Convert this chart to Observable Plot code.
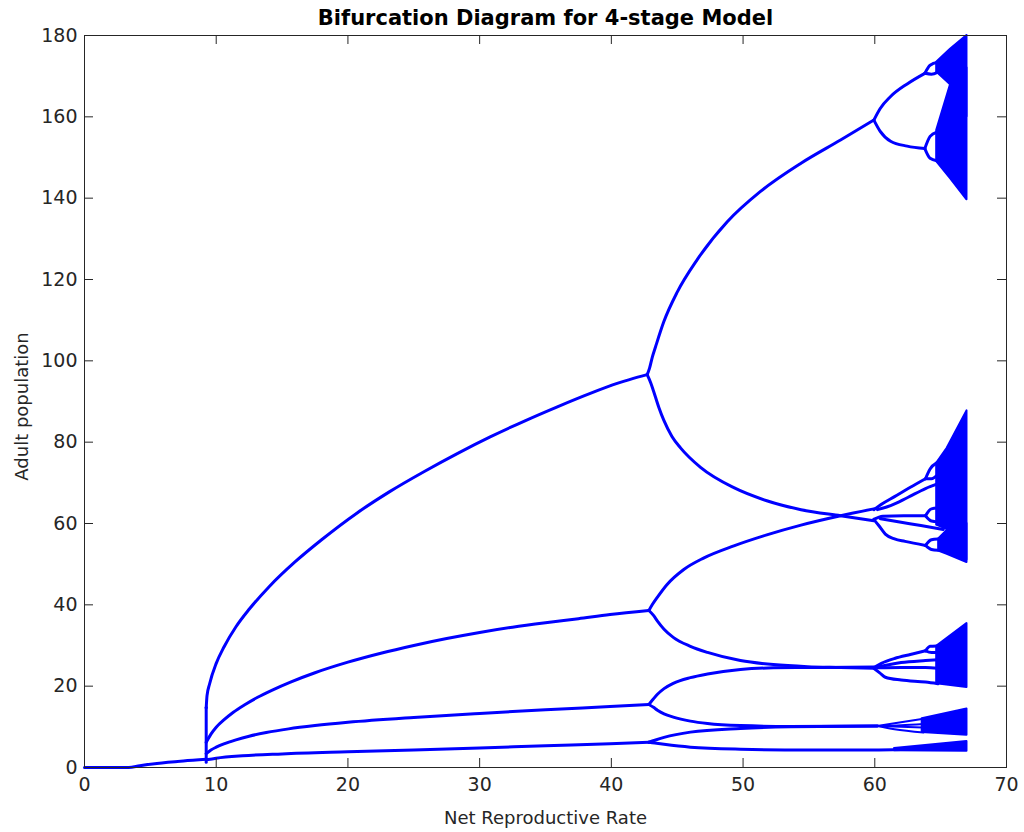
<!DOCTYPE html>
<html><head><meta charset="utf-8">
<script src="https://cdn.jsdelivr.net/npm/d3@7"></script>
<script src="https://cdn.jsdelivr.net/npm/@observablehq/plot@0.6"></script>
<style>body{margin:0;background:#fff}#chart{width:1024px;height:832px}</style>
</head><body><div id="chart"></div>
<script>
const title = "Bifurcation Diagram for 4-stage Model";
const xLabel = "Net Reproductive Rate";
const yLabel = "Adult population";
const xTicks = [0, 10, 20, 30, 40, 50, 60, 70];
const yTicks = [0, 20, 40, 60, 80, 100, 120, 140, 160, 180];

// branches: [R, adults]
const stem = [[0,0],[3.35,0],[4.2,0.45],[5.5,1.0],[7.5,1.6],[9.24,2.0]];
const jump = [[9.24,1.3],[9.24,14.8]];
const branchA = [[9.24,14.6],[9.3,17.6],[9.5,20.6],[10.0,25.6],[10.6,29.7],[11.5,34.6],[12.5,38.9],[14,44.4],[16,50.6],[18,56.0],[20.7,62.6],[23.2,67.9],[25.8,72.8],[28.3,77.2],[30.8,81.3],[33.4,85.2],[35.9,88.7],[38.4,92.0],[40.5,94.5],[42.0,96.0],[42.72,96.6]];
const branchB = [[9.24,6.2],[9.6,8.2],[10.0,9.9],[10.58,11.7],[11.3,13.6],[12.2,15.5],[13.11,17.2],[14.3,19.1],[15.64,21.0],[17.5,23.3],[20,25.9],[22.5,28.1],[25,30.0],[27.5,31.7],[30,33.2],[32.5,34.5],[35,35.6],[37.5,36.6],[39.9,37.6],[42.85,38.6]];
const branchC = [[9.24,3.4],[9.6,4.3],[10.0,5.0],[10.58,5.8],[11.5,6.8],[12.5,7.7],[13.8,8.6],[15.5,9.5],[17.5,10.3],[20,11.1],[25,12.3],[30,13.3],[35,14.2],[39.9,15.0],[42.85,15.5]];
const branchD = [[9.24,1.9],[10,2.3],[12,2.9],[15,3.35],[20,3.85],[25,4.3],[30,4.8],[35,5.35],[39.9,5.85],[42.85,6.2]];

const branchA1 = [[42.72,96.6],[42.9,98.2],[43.1,100.8],[43.35,103.4],[43.98,109.6],[45.0,116.9],[46.52,124.9],[48.8,134.2],[51.3,141.6],[54.4,148.6],[57.4,154.3],[59.93,159.2]];
const branchA2 = [[42.72,96.6],[43.0,94.5],[43.2,92.6],[43.6,88.6],[43.98,85.4],[44.6,81.4],[45.25,78.6],[46.77,73.8],[49.3,68.8],[51.8,65.6],[54.4,63.4],[57.4,61.9],[59.93,60.7]];
const branchB1 = [[42.85,38.6],[43.1,40.0],[43.5,41.9],[44.2,44.9],[45.5,48.7],[47.0,51.5],[49.3,54.5],[51.8,57.2],[54.4,59.6],[57.4,61.9],[59.93,63.6]];
const branchB2 = [[42.85,38.6],[43.2,37.4],[43.5,36.0],[44.0,34.0],[44.7,32.0],[46,29.8],[47.3,28.3],[49.8,26.3],[52.3,25.3],[54.9,24.8],[57.4,24.6],[59.93,24.4]];
const branchC1 = [[42.85,15.5],[43.2,16.9],[43.5,18.0],[44.0,19.4],[44.7,20.7],[46,22.1],[47.3,23.0],[49.8,24.1],[52.3,24.5],[56,24.6],[59.93,24.7]];
const branchC2 = [[42.85,15.5],[43.2,14.8],[43.5,14.1],[44.0,13.2],[44.7,12.4],[46,11.4],[47.3,10.8],[49.8,10.3],[53.6,10.1],[60.2,10.2]];
const branchD1 = [[42.85,6.2],[43.3,6.7],[44,7.4],[46,8.7],[49.8,9.6],[53.6,10.0],[60.2,10.2]];
const branchD2 = [[42.85,6.2],[43.3,6.0],[44,5.7],[46,5.0],[49.8,4.5],[54.9,4.3],[59.93,4.3],[62,4.4]];

// top cluster
const topU = [[59.93,159.2],[60.4,162],[61.2,165.0],[62.46,168.1],[63.8,170.7]];
const topUa = [[63.8,170.7],[64.2,172.7],[64.8,173.4]];
const topUb = [[63.8,170.7],[64.3,170.5],[64.8,171.0]];
const topL = [[59.93,159.2],[60.4,156.5],[61.2,154.0],[62.46,152.8],[63.8,152.2]];
const topLa = [[63.8,152.2],[64.2,155.2],[64.7,156.2]];
const topLb = [[63.8,152.2],[64.2,149.8],[64.7,149.2]];
// middle cluster
const midM1 = [[59.93,63.4],[60.6,64.9],[61.5,66.6],[62.7,68.9],[63.85,71.0]];
const midM1a = [[63.85,71.0],[64.2,73.4],[64.7,74.9]];
const midM1b = [[63.85,71.0],[64.3,71.0],[64.8,72.0]];
const midM2 = [[60.2,63.4],[61.2,64.4],[62.5,66.4],[63.85,68.6],[64.8,69.8]];
const midM3 = [[59.93,61.0],[60.6,61.8],[62.2,61.9],[63.85,61.9]];
const midM3a = [[63.85,61.9],[64.3,63.6],[64.8,63.8]];
const midM3b = [[63.85,61.9],[64.3,60.6],[64.8,60.4]];
const midM4 = [[60.4,61.2],[62.0,60.3],[63.5,59.5],[65.2,58.5]];
const midM5 = [[59.93,61.0],[60.3,59.5],[60.8,57.4],[61.5,56.2],[62.3,55.6],[63.85,54.6]];
const midM5a = [[63.85,54.6],[64.3,56.0],[64.8,56.2]];
const midM5b = [[63.85,54.6],[64.3,53.6],[64.8,53.4]];
// lower-middle cluster
const lowN1 = [[59.93,24.6],[60.5,25.6],[61.5,26.8],[62.7,27.8],[63.85,28.7]];
const lowN1a = [[63.85,28.7],[64.2,29.8],[64.7,29.9]];
const lowN1b = [[63.85,28.7],[64.3,28.3],[64.8,28.3]];
const lowN2 = [[60.2,24.7],[62,25.8],[63.85,26.3],[64.8,26.5]];
const lowN3 = [[60.2,24.5],[62,24.6],[63.85,24.6],[64.8,24.4]];
const lowN4 = [[59.93,24.4],[60.4,23.2],[60.8,22.2],[62,21.5],[63.85,21.0],[64.8,20.6]];
// thin fan of the 10-level cluster
const fanK1 = [[60.2,10.2],[61.5,10.9],[63.7,12.0]];
const fanK2 = [[60.2,10.2],[62,10.4],[63.7,10.7]];
const fanK3 = [[60.2,10.2],[62,10.0],[63.7,9.8]];
const fanK4 = [[60.2,10.2],[61.5,9.4],[63.7,8.6]];

// chaotic bands: [R, low, high]
const chaosTopUpper = [[64.7,171.0,173.4],[65.75,167.9,176.6],[67.0,160.0,180.0]];
const chaosTopMain = [[64.7,149.0,156.6],[65.75,144.8,167.9],[67.0,139.6,172.0]];
const chaosMidUpper = [[64.7,59.6,74.8],[65.5,58.5,78.5],[67.0,51.0,87.7]];
const chaosMidLower = [[64.85,53.2,56.2],[65.5,52.4,58.3],[67.0,50.4,60.0]];
const chaosLowMid = [[64.7,20.6,29.8],[67.0,19.7,35.4]];
const chaosTen = [[63.6,8.6,12.0],[67.0,7.9,14.4]];
const chaosFour = [[61.5,4.1,4.7],[67.0,4.0,6.4]];

const mainLines = [["stem",stem],["A",branchA],["B",branchB],["C",branchC],["D",branchD],
  ["A1",branchA1],["A2",branchA2],["B1",branchB1],["B2",branchB2],["C1",branchC1],["C2",branchC2],["D1",branchD1],["D2",branchD2],
  ["U",topU],["Ua",topUa],["Ub",topUb],["L",topL],["La",topLa],["Lb",topLb],
  ["M1",midM1],["M1a",midM1a],["M1b",midM1b],["M2",midM2],["M3",midM3],["M3a",midM3a],["M3b",midM3b],["M4",midM4],["M5",midM5],["M5a",midM5a],["M5b",midM5b],
  ["N1",lowN1],["N1a",lowN1a],["N1b",lowN1b],["N2",lowN2],["N3",lowN3],["N4",lowN4]];
const thinLines = [["K1",fanK1],["K2",fanK2],["K3",fanK3],["K4",fanK4]];
const bands = [["tu",chaosTopUpper],["tm",chaosTopMain],["mu",chaosMidUpper],["ml",chaosMidLower],["lm",chaosLowMid],["ten",chaosTen],["four",chaosFour]];

const toRows = list => list.flatMap(([id, pts]) => pts.map(([x, y]) => ({id, x, y})));
const lineRows = toRows(mainLines);
const thinRows = toRows(thinLines);
const jumpRows = toRows([["jump", jump]]);
const bandRows = bands.flatMap(([id, pts]) => pts.map(([x, lo, hi]) => ({id, x, lo, hi})));

const W = 1024, H = 832, mt = 35, mb = 65, ml = 84, mr = 18;
const plotW = W - ml - mr, plotH = H - mt - mb, tick = 9;
const blue = "#0000ff", ink = "#262626";

const chart = Plot.plot({
  width: W, height: H,
  marginTop: mt, marginBottom: mb, marginLeft: ml, marginRight: mr,
  style: {fontFamily: "'DejaVu Sans', sans-serif", fontSize: "19px", color: ink, background: "#fff"},
  x: {domain: [0, 70], ticks: xTicks, label: null},
  y: {domain: [0, 180], ticks: yTicks, label: null},
  marks: [
    Plot.areaY(bandRows, {x: "x", y1: "lo", y2: "hi", z: "id", fill: blue, stroke: blue, strokeWidth: 2, curve: "linear"}),
    Plot.line(thinRows, {x: "x", y: "y", z: "id", stroke: blue, strokeWidth: 2, curve: "monotone-x"}),
    Plot.line(jumpRows, {x: "x", y: "y", z: "id", stroke: blue, strokeWidth: 3, curve: "linear", strokeLinecap: "round"}),
    Plot.line(lineRows, {x: "x", y: "y", z: "id", stroke: blue, strokeWidth: 3, curve: "monotone-x", strokeLinecap: "round", strokeLinejoin: "round"}),
    Plot.frame({stroke: ink, strokeWidth: 1}),
    Plot.tickX(xTicks, {x: d => d, insetTop: plotH - tick, stroke: ink, strokeWidth: 1}),
    Plot.tickX(xTicks, {x: d => d, insetBottom: plotH - tick, stroke: ink, strokeWidth: 1}),
    Plot.tickY(yTicks, {y: d => d, insetRight: plotW - tick, stroke: ink, strokeWidth: 1}),
    Plot.tickY(yTicks, {y: d => d, insetLeft: plotW - tick, stroke: ink, strokeWidth: 1}),
    Plot.axisX(xTicks, {tickSize: 0, tickPadding: 10, fontSize: 19, fill: ink, label: null}),
    Plot.axisY(yTicks, {tickSize: 0, tickPadding: 7, fontSize: 19, fill: ink, label: null}),
    Plot.text([xLabel], {frameAnchor: "bottom", dy: 51, lineAnchor: "middle", textAnchor: "middle", fontSize: 18, fill: ink}),
    Plot.text([yLabel], {frameAnchor: "left", dx: -62, dy: 5, rotate: -90, textAnchor: "middle", lineAnchor: "middle", fontSize: 18, fill: ink}),
    Plot.text([title], {frameAnchor: "top", dy: -17, lineAnchor: "middle", textAnchor: "middle", fontSize: 21, fontWeight: "bold", fill: "#000"})
  ]
});
document.getElementById("chart").appendChild(chart);
</script>
</body></html>
